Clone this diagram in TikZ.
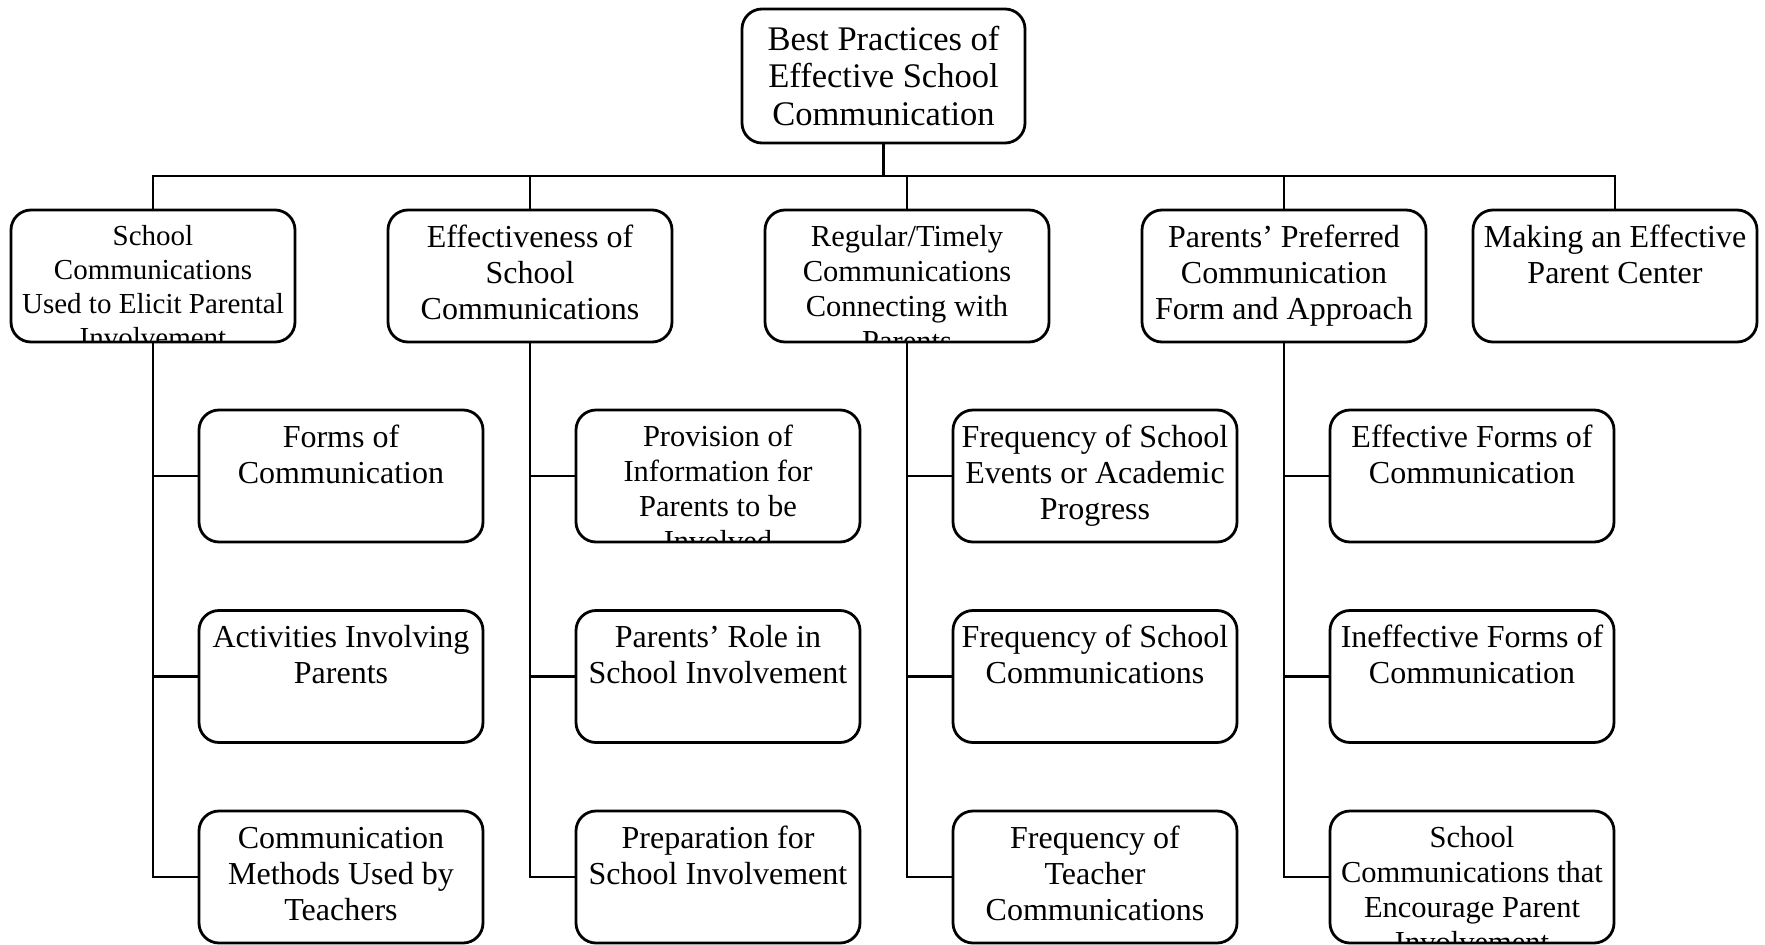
\documentclass[tikz,border=0pt]{standalone}
\usepackage{fontspec}
\setmainfont{Liberation Serif}
\usetikzlibrary{positioning}
\newcommand{\bigfs}{\fontsize{34.5}{37.5}\selectfont}
\newcommand{\midfs}{\fontsize{32}{36}\selectfont}
\newcommand{\smallfs}{\fontsize{30.5}{35}\selectfont}
\newcommand{\tinyfs}{\fontsize{29}{34}\selectfont}

\begin{document}
\begin{tikzpicture}[x=1pt, y=-1pt,
    wire/.style={line width=2.8pt},
    card/.style={draw, line width=2.8pt, rounded corners=20pt, minimum width=284pt, minimum height=132pt, inner sep=0pt, outer sep=0pt},
    topic/.style 2 args={card, path picture={\node[anchor=north, align=center, inner sep=0pt, minimum width=0pt, minimum height=0pt, font=#1] at ([yshift=-12pt]path picture bounding box.north) {\strut #2};}}]
  \useasboundingbox (0,0) rectangle (1765,945);

  % top of the tree
  \node[card, minimum width=283pt, minimum height=134pt, align=center, font=\bigfs] (root) at (883.5,76) {Best Practices of\\Effective School\\Communication};
  \coordinate (hub) at (883.5,176);

  % first level
  \node[topic={\tinyfs}{School\\Communications\\Used to Elicit Parental\\Involvement}] (c1) at (153,276) {};
  \node[topic={\midfs}{Effectiveness of\\School\\Communications}] (c2) at (530,276) {};
  \node[topic={\smallfs}{Regular/Timely\\Communications\\Connecting with\\Parents}] (c3) at (907,276) {};
  \node[topic={\midfs}{Parents’ Preferred\\Communication\\Form and Approach}] (c4) at (1284,276) {};
  \node[topic={\midfs}{Making an Effective\\Parent Center}] (c5) at (1615,276) {};

  % second level, one column under each branch
  \node[topic={\midfs}{Forms of\\Communication}] (c1a) at (341,476) {};
  \node[topic={\midfs}{Activities Involving\\Parents}, below=68.5pt of c1a] (c1b) {};
  \node[topic={\midfs}{Communication\\Methods Used by\\Teachers}, below=68.5pt of c1b] (c1c) {};

  \node[topic={\smallfs}{Provision of\\Information for\\Parents to be\\Involved}] (c2a) at (718,476) {};
  \node[topic={\midfs}{Parents’ Role in\\School Involvement}, below=68.5pt of c2a] (c2b) {};
  \node[topic={\midfs}{Preparation for\\School Involvement}, below=68.5pt of c2b] (c2c) {};

  \node[topic={\midfs}{Frequency of School\\Events or Academic\\Progress}] (c3a) at (1095,476) {};
  \node[topic={\midfs}{Frequency of School\\Communications}, below=68.5pt of c3a] (c3b) {};
  \node[topic={\midfs}{Frequency of\\Teacher\\Communications}, below=68.5pt of c3b] (c3c) {};

  \node[topic={\midfs}{Effective Forms of\\Communication}] (c4a) at (1472,476) {};
  \node[topic={\midfs}{Ineffective Forms of\\Communication}, below=68.5pt of c4a] (c4b) {};
  \node[topic={\smallfs}{School\\Communications that\\Encourage Parent\\Involvement}, below=68.5pt of c4b] (c4c) {};

  % connectors
  \draw[wire] (root.south) -- (hub);
  \foreach \i in {1,...,5}
    \draw[wire] (c\i.north) |- (hub);
  \foreach \i in {1,...,4} {
    \draw[wire] (c\i.south) |- (c\i c.west);
    \draw[wire] (c\i a.west) -- (c\i a.west -| c\i.south);
    \draw[wire] (c\i b.west) -- (c\i b.west -| c\i.south);
  }
\end{tikzpicture}
\end{document}
